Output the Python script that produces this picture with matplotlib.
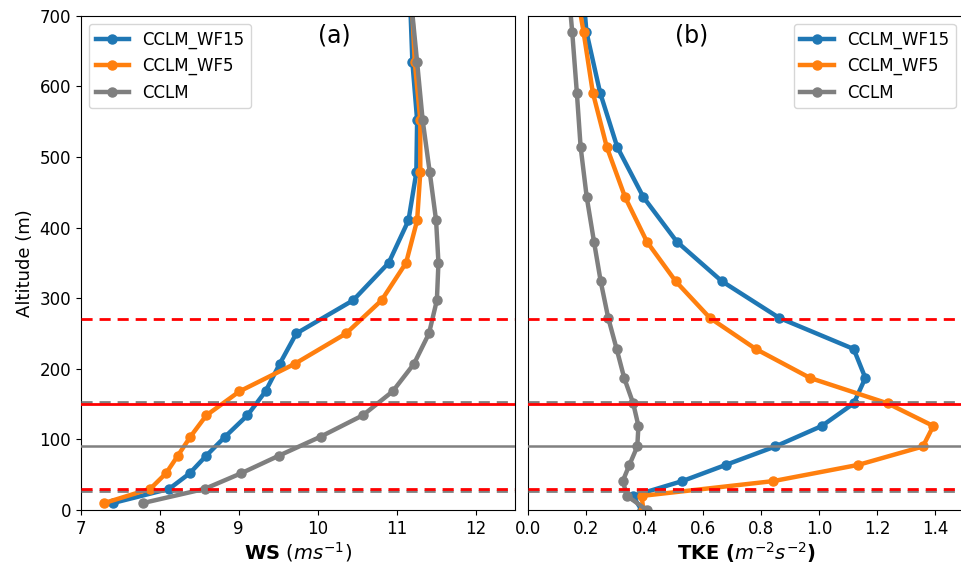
import matplotlib
matplotlib.use("Agg")
import matplotlib.pyplot as plt

# Full model levels (m) for wind speed
z_full = [10, 30, 52, 77, 104, 134, 168, 207, 250, 297, 350, 410, 478, 552, 634, 725]
ws_wf15 = [7.41, 8.12, 8.38, 8.59, 8.83, 9.11, 9.34, 9.52, 9.73, 10.45, 10.90, 11.15, 11.25, 11.26, 11.20, 11.17]
ws_wf5 = [7.30, 7.88, 8.08, 8.23, 8.39, 8.59, 9.01, 9.71, 10.36, 10.81, 11.12, 11.26, 11.30, 11.30, 11.23, 11.19]
ws_cclm = [7.79, 8.57, 9.03, 9.51, 10.04, 10.57, 10.95, 11.22, 11.41, 11.51, 11.53, 11.50, 11.42, 11.33, 11.26, 11.18]

# Half model levels (m) for TKE
z_half = [0, 20, 41, 64, 90, 119, 151, 187, 228, 272, 324, 380, 443, 514, 591, 677, 775]
tke_wf15 = [0.39, 0.36, 0.53, 0.68, 0.85, 1.01, 1.12, 1.16, 1.12, 0.864, 0.666, 0.511, 0.396, 0.306, 0.247, 0.20, 0.18]
tke_wf5 = [0.396, 0.39, 0.843, 1.136, 1.358, 1.394, 1.237, 0.97, 0.783, 0.625, 0.507, 0.408, 0.333, 0.27, 0.222, 0.19, 0.15]
tke_cclm = [0.408, 0.34, 0.325, 0.348, 0.375, 0.379, 0.361, 0.33, 0.304, 0.275, 0.249, 0.226, 0.201, 0.18, 0.167, 0.151, 0.13]

labels = ["CCLM_WF15", "CCLM_WF5", "CCLM"]
colors = ["#1f77b4", "#ff7f0e", "#7f7f7f"]

# Turbine reference heights
big_rotor = [30, 270]
big_hub = 150
small_rotor = [27, 153]
small_hub = 90

ws_ticks = [7, 8, 9, 10, 11, 12]
tke_ticks = [0.0, 0.2, 0.4, 0.6, 0.8, 1.0, 1.2, 1.4]
alt_ticks = [0, 100, 200, 300, 400, 500, 600, 700]

plt.rcParams["font.family"] = ["DejaVu Sans"]

fig = plt.figure(figsize=(9.62, 5.68), dpi=100)
axa = fig.add_axes([0.0839, 0.102, 0.4515, 0.8705])
axb = fig.add_axes([0.5492, 0.102, 0.4530, 0.8705])

lw = 3.2
ms = 6.5

def add_hlines(ax):
    ax.axhline(small_hub, color="gray", lw=1.8, zorder=5)
    for h in small_rotor:
        ax.axhline(h, color="gray", lw=2.0, ls=(0, (4, 2.5)), zorder=5)
    ax.axhline(big_hub, color="red", lw=2.0, zorder=6)
    for h in big_rotor:
        ax.axhline(h, color="red", lw=2.0, ls=(0, (4, 2.5)), zorder=6)

for ys, c, l in zip([ws_wf15, ws_wf5, ws_cclm], colors, labels):
    axa.plot(ys, z_full, "-o", color=c, lw=lw, ms=ms, label=l)
add_hlines(axa)
axa.set_xlim(7, 12.5)
axa.set_ylim(0, 700)
axa.set_xticks(ws_ticks)
axa.set_yticks(alt_ticks)
axa.set_ylabel("Altitude (m)", fontsize=13)
axa.set_xlabel(r"$\mathbf{WS}$ ($ms^{-1}$)", fontsize=14, labelpad=2)
axa.text(0.585, 0.985, "(a)", transform=axa.transAxes, ha="center", va="top", fontsize=17)
axa.legend(loc="upper left", fontsize=12, borderaxespad=0.5)

for xs, c, l in zip([tke_wf15, tke_wf5, tke_cclm], colors, labels):
    axb.plot(xs, z_half, "-o", color=c, lw=lw, ms=ms, label=l)
add_hlines(axb)
axb.set_xlim(0, 1.5)
axb.set_ylim(0, 700)
axb.set_xticks(tke_ticks)
axb.set_xticklabels([f"{t:.1f}" for t in tke_ticks])
axb.set_yticks(alt_ticks)
axb.tick_params(axis="y", left=False, labelleft=False)
axb.set_xlabel(r"$\mathbf{TKE}$ ($m^{-2}s^{-2}$)", fontsize=14, fontweight="bold", labelpad=2)
axb.text(0.375, 0.985, "(b)", transform=axb.transAxes, ha="center", va="top", fontsize=17)
axb.legend(loc="upper right", fontsize=12, borderaxespad=0.5)

for ax in (axa, axb):
    ax.tick_params(labelsize=12)

fig.savefig("out.png", dpi=100)
